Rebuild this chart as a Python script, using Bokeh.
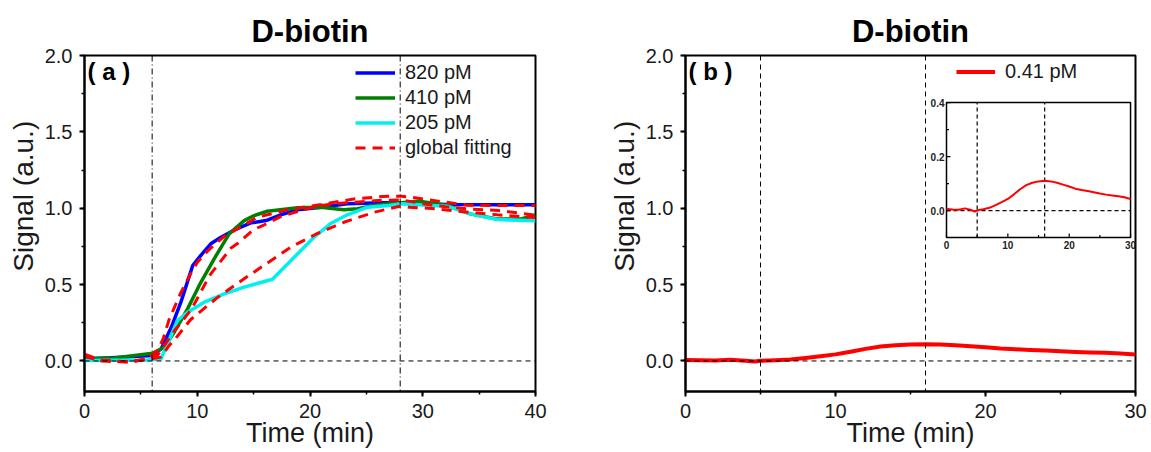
from bokeh.plotting import figure
from bokeh.layouts import row
from bokeh.models import (Range1d, SingleIntervalTicker, Span, Legend, LegendItem, Label, PrintfTickFormatter)
from bokeh.core.properties import value
from bokeh.embed import file_html
from bokeh.resources import INLINE

FONT = "Liberation Sans"

# ---------------- data: panel (a) ----------------
t_820 = [0, 2, 4, 6.0, 6.8, 7.7, 8.55, 9.6, 10.3, 11.2, 12.1, 13.3, 14.75, 16.1, 17.4, 18.9, 21.0, 23.3, 26.3, 28.1, 30, 32.2, 36, 40]
s_820 = [0.014, 0.02, 0.028, 0.035, 0.079, 0.22, 0.385, 0.625, 0.69, 0.767, 0.81, 0.858, 0.904, 0.919, 0.957, 0.99, 1.007, 1.029, 1.036, 1.036, 1.03, 1.024, 1.022, 1.022]

t_410 = [0, 2.65, 6.04, 7.07, 7.96, 9.14, 10.32, 11.5, 12.83, 14.16, 15.05, 16.2, 18.9, 20.95, 23.0, 24.2, 25.7, 27.0, 29.7, 32.2, 34.2, 36.6, 38.7, 40]
s_410 = [0.014, 0.02, 0.05, 0.09, 0.188, 0.341, 0.515, 0.669, 0.832, 0.919, 0.952, 0.98, 1.003, 1.007, 0.99, 0.997, 1.018, 1.03, 1.045, 1.018, 0.963, 0.93, 0.93, 0.955]

t_205 = [0, 5.6, 6.78, 7.5, 8.25, 9.14, 10.62, 12.39, 14.16, 16.67, 18.6, 20.36, 21.8, 23.3, 25.1, 27.0, 28.1, 30.7, 32.2, 34.2, 36.6, 40]
s_205 = [0.003, 0.007, 0.014, 0.134, 0.265, 0.319, 0.385, 0.439, 0.483, 0.535, 0.679, 0.81, 0.898, 0.957, 1.007, 1.018, 1.03, 1.018, 1.013, 0.963, 0.926, 0.918]

t_fit1 = [0, 1.5, 4.0, 5.6, 6.5, 7.0, 7.5, 8.5, 9.4, 10.0, 10.8, 11.5, 12.3, 13.3, 15.3, 18.0, 21.0, 23.9, 26.9, 28.1, 29.0, 31.6, 34.0, 37.0, 40]
s_fit1 = [0.045, 0.003, -0.008, 0.014, 0.07, 0.15, 0.27, 0.44, 0.57, 0.645, 0.71, 0.76, 0.81, 0.855, 0.94, 0.99, 1.024, 1.061, 1.079, 1.079, 1.072, 1.044, 1.02, 1.018, 1.018]

t_fit2 = [0, 1.5, 4.0, 5.6, 6.5, 8.0, 9.5, 11.1, 13.0, 13.6, 15.0, 15.9, 17.4, 18.5, 20.6, 23.0, 26.0, 28.1, 30.0, 32.0, 34.0, 36.7, 40]
s_fit2 = [0.035, 0.005, -0.006, 0.012, 0.04, 0.2, 0.34, 0.56, 0.74, 0.77, 0.86, 0.89, 0.945, 0.97, 1.015, 1.035, 1.05, 1.055, 1.03, 1.01, 0.995, 0.985, 0.955]

t_fit3 = [0, 1.5, 4.0, 5.6, 6.78, 7.5, 8.0, 9.4, 11.7, 13.7, 16.0, 18.3, 20.6, 23.0, 25.7, 28.1, 28.8, 31.2, 34.0, 36.6, 39.4, 40]
s_fit3 = [0.03, 0.0, -0.005, 0.01, 0.025, 0.1, 0.14, 0.27, 0.41, 0.515, 0.63, 0.745, 0.833, 0.908, 0.974, 1.015, 1.007, 0.996, 0.974, 0.957, 0.941, 0.94]

a_marks = [6, 28]

# ---------------- data: panel (b) ----------------
t_b = [0, 1, 2, 3, 4, 4.6, 5, 6, 7, 8, 9, 10, 11, 12, 13, 14, 15, 16, 17, 18, 19, 20, 21, 22, 23, 24, 25, 26, 27, 28, 29, 30]
s_b = [0.006, 0.004, 0.003, 0.008, 0.002, -0.004, 0.001, 0.005, 0.010, 0.020, 0.031, 0.043, 0.060, 0.079, 0.094, 0.103,
       0.108, 0.110, 0.108, 0.103, 0.096, 0.089, 0.081, 0.076, 0.072, 0.068, 0.063, 0.059, 0.056, 0.053, 0.049, 0.043]
b_marks = [5, 16]

inset_x = (0, 30)
inset_y = (-0.1, 0.4)
inset_xticks = [0, 10, 20, 30]
inset_xminor = [5, 15, 25]
inset_xlabels = ["0", "10", "20", "30"]
inset_yticks = [0.0, 0.2, 0.4]
inset_yminor = [0.1, 0.3]
inset_ylabels = ["0.0", "0.2", "0.4"]
# where the inset sits, in panel (b) data units
inset_target_x = (17.4, 29.67)
inset_target_y = (0.808, 1.692)

NBSP = "\u00a0"


def base_fig(width, xmax, bl, br):
    p = figure(width=width, height=452, x_range=Range1d(0, xmax), y_range=Range1d(-0.2, 2.0),
               output_backend="svg", toolbar_location=None, title="D-biotin",
               min_border_left=bl, min_border_right=br, min_border_top=55, min_border_bottom=61)
    p.title.align = "center"
    p.title.text_font = FONT
    p.title.text_font_size = "31px"
    p.title.text_font_style = "bold"
    p.title.text_color = "black"
    p.title.standoff = 13
    p.grid.visible = False
    p.background_fill_color = "white"
    p.border_fill_color = "white"
    p.outline_line_color = "black"
    p.outline_line_width = 2
    p.outline_line_alpha = 1
    p.xaxis.ticker = SingleIntervalTicker(interval=10, num_minor_ticks=2)
    p.yaxis.ticker = SingleIntervalTicker(interval=0.5, num_minor_ticks=2)
    p.yaxis.formatter = PrintfTickFormatter(format="%.1f")
    for ax in (p.xaxis[0], p.yaxis[0]):
        ax.axis_line_width = 2
        ax.axis_line_color = "black"
        ax.major_tick_out = 5
        ax.major_tick_in = 0
        ax.minor_tick_out = 3
        ax.minor_tick_in = 0
        ax.major_tick_line_width = 2
        ax.minor_tick_line_width = 1.5
        ax.major_label_text_font = FONT
        ax.major_label_text_font_size = "20px"
        ax.major_label_text_color = "#1a1a1a"
        ax.axis_label_text_font = FONT
        ax.axis_label_text_font_style = "normal"
        ax.axis_label_text_color = "#1a1a1a"
    p.xaxis.major_label_standoff = 7
    p.yaxis.major_label_standoff = 7
    p.xaxis.axis_label = "Time (min)"
    p.xaxis.axis_label_text_font_size = "27px"
    p.xaxis.axis_label_standoff = -3
    p.yaxis.axis_label = NBSP * 7 + "Signal (a.u.)"
    p.yaxis.axis_label_text_font_size = "28px"
    p.yaxis.axis_label_standoff = 3
    p.add_layout(Span(location=0, dimension="width", line_color="black", line_width=1, line_dash="5 4"))
    return p


# ---------------- panel (a) ----------------
pA = base_fig(605, 40, 84, 70)
for m in a_marks:
    pA.add_layout(Span(location=m, dimension="height", line_color="black", line_width=1, line_dash="6 3 1 3"))
pA.add_layout(Label(x=3, y=320, x_units="screen", y_units="screen", text="( a )", text_font=FONT,
                    text_font_size="24px", text_font_style="bold", text_baseline="alphabetic", text_color="black"))

r820 = pA.line(t_820, s_820, line_color="#0000ff", line_width=3.5, line_join="round")
r410 = pA.line(t_410, s_410, line_color="#008000", line_width=3.5, line_join="round")
r205 = pA.line(t_205, s_205, line_color="#00f0f0", line_width=3.5, line_join="round")
rf1 = pA.line(t_fit1, s_fit1, line_color="#ff0000", line_width=3, line_dash="10 7")
rf2 = pA.line(t_fit2, s_fit2, line_color="#ff0000", line_width=3, line_dash="10 7")
rf3 = pA.line(t_fit3, s_fit3, line_color="#ff0000", line_width=3, line_dash="10 7")

legA = Legend(items=[LegendItem(label="820 pM", renderers=[r820]),
                     LegendItem(label="410 pM", renderers=[r410]),
                     LegendItem(label="205 pM", renderers=[r205]),
                     LegendItem(label="global fitting", renderers=[rf1])],
              location=(271, 232), glyph_width=40, glyph_height=23, label_height=23, spacing=2,
              padding=0, margin=0, label_standoff=10, border_line_alpha=0, background_fill_alpha=0,
              label_text_font=FONT, label_text_font_size="20px", label_text_color="#1a1a1a")
pA.add_layout(legA)

# ---------------- panel (b) ----------------
pB = base_fig(546, 30, 80, 16)
for m in b_marks:
    pB.add_layout(Span(location=m, dimension="height", line_color="black", line_width=1, line_dash="5 4"))
pB.add_layout(Label(x=3, y=320, x_units="screen", y_units="screen", text="( b )", text_font=FONT,
                    text_font_size="24px", text_font_style="bold", text_baseline="alphabetic", text_color="black"))
rb = pB.line(t_b, s_b, line_color="#ff0000", line_width=4, line_join="round")

legB = Legend(items=[LegendItem(label="0.41 pM", renderers=[rb])],
              location=(271, 308), glyph_width=39, glyph_height=23, label_height=23, spacing=2,
              padding=0, margin=0, label_standoff=10, border_line_alpha=0, background_fill_alpha=0,
              label_text_font=FONT, label_text_font_size="20px", label_text_color="#1a1a1a")
pB.add_layout(legB)

# inset
sub = pB.subplot(x_source=Range1d(*inset_x), y_source=Range1d(*inset_y),
                 x_target=Range1d(*inset_target_x), y_target=Range1d(*inset_target_y))
sub.quad(left=[inset_x[0]], right=[inset_x[1]], bottom=[inset_y[0]], top=[inset_y[1]],
         fill_color="white", line_color="black", line_width=1.5)
sub.segment(x0=b_marks, y0=[inset_y[0]] * len(b_marks), x1=b_marks, y1=[inset_y[1]] * len(b_marks),
            line_color="black", line_width=1.2, line_dash="4 3")
sub.segment(x0=[inset_x[0]], y0=[0], x1=[inset_x[1]], y1=[0], line_color="black", line_width=1.2, line_dash="4 3")
sub.line(t_b, s_b, line_color="#ff0000", line_width=2, line_join="round")
# inset ticks (inward)
px_x = (inset_target_x[1] - inset_target_x[0]) * 15.0 / (inset_x[1] - inset_x[0])  # px per inset x unit
px_y = (inset_target_y[1] - inset_target_y[0]) * 152.7 / (inset_y[1] - inset_y[0])  # px per inset y unit
sub.segment(x0=inset_xticks, y0=[inset_y[0]] * 4, x1=inset_xticks, y1=[inset_y[0] + 4 / px_y] * 4,
            line_color="black", line_width=1.2)
sub.segment(x0=inset_xminor, y0=[inset_y[0]] * 3, x1=inset_xminor, y1=[inset_y[0] + 2.5 / px_y] * 3,
            line_color="black", line_width=1.2)
sub.segment(x0=[inset_x[0]] * 3, y0=inset_yticks, x1=[inset_x[0] + 4 / px_x] * 3, y1=inset_yticks,
            line_color="black", line_width=1.2)
sub.segment(x0=[inset_x[0]] * 2, y0=inset_yminor, x1=[inset_x[0] + 2.5 / px_x] * 2, y1=inset_yminor,
            line_color="black", line_width=1.2)
sub.text(x=inset_xticks, y=[inset_y[0]] * 4, text=inset_xlabels, text_align="center", text_baseline="top",
         y_offset=3, text_font=value(FONT), text_font_style="bold", text_font_size="10px", text_color="#222222")
sub.text(x=[inset_x[0]] * 3, y=inset_yticks, text=inset_ylabels, text_align="right", text_baseline="middle",
         x_offset=-2, text_font=value(FONT), text_font_style="bold", text_font_size="10px", text_color="#222222")

layout = row(pA, pB)
open("out.html", "w").write(file_html(layout, INLINE))
